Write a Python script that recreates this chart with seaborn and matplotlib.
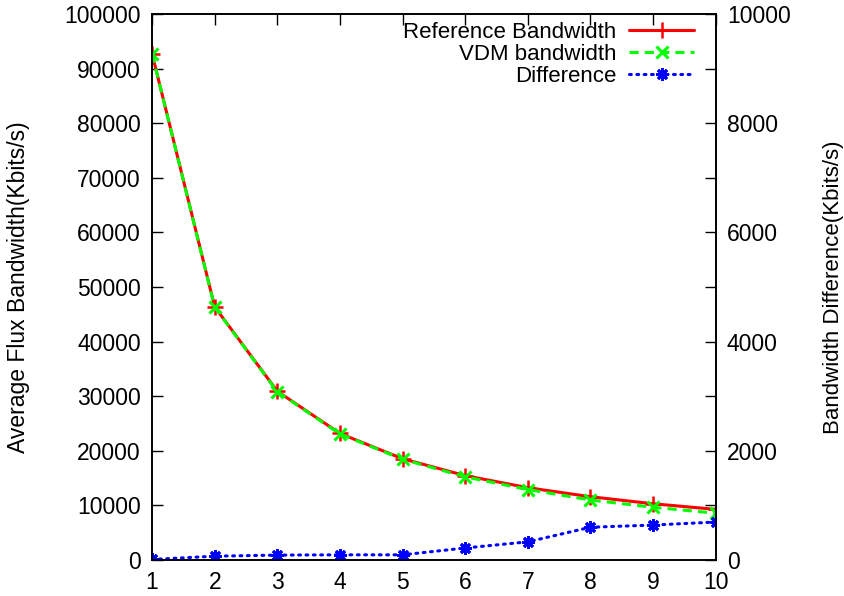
import matplotlib
matplotlib.use("Agg")
import matplotlib.pyplot as plt
import seaborn as sns
import pandas as pd

x_vals = [1, 2, 3, 4, 5, 6, 7, 8, 9, 10]
reference_bw = [92700, 46350, 30900, 23175, 18540, 15450, 13243, 11590, 10300, 9270]
vdm_bw = [92690, 46280, 30810, 23080, 18450, 15230, 12910, 10990, 9660, 8575]
difference = [10, 70, 90, 95, 95, 220, 333, 600, 640, 695]

sns.set_style("white")
plt.rcParams['font.family'] = ['Liberation Sans', 'DejaVu Sans']
plt.rcParams['text.color'] = 'black'
plt.rcParams['axes.labelcolor'] = 'black'
plt.rcParams['xtick.color'] = 'black'
plt.rcParams['ytick.color'] = 'black'
FS = 16.5

df = pd.DataFrame({"x": x_vals, "ref": reference_bw, "vdm": vdm_bw, "diff": difference})

fig = plt.figure(figsize=(8.45, 5.96), dpi=100)
ax = fig.add_axes([0.180, 0.0604, 0.667, 0.9161])
ax2 = ax.twinx()

sns.lineplot(data=df, x="x", y="ref", ax=ax, color="#ff0000", lw=2.2, marker="+",
             markersize=11, markeredgewidth=1.8, markeredgecolor="#ff0000",
             label="Reference Bandwidth", legend=False)
sns.lineplot(data=df, x="x", y="vdm", ax=ax, color="#00ff00", lw=2.2, linestyle=(0, (3, 2)),
             marker="x", markersize=8, markeredgewidth=2.2, markeredgecolor="#00ff00",
             label="VDM bandwidth", legend=False)
sns.lineplot(data=df, x="x", y="diff", ax=ax2, color="#0000ff", lw=2.2, linestyle=(0, (0.6, 1.8)),
             dash_capstyle="round", marker=(8, 2, 0), markersize=9, markeredgewidth=2.0,
             markeredgecolor="#0000ff", label="Difference", legend=False)

ax.set_xlim(1, 10)
ax.set_ylim(0, 100000)
ax2.set_ylim(0, 10000)
ax.set_xticks(x_vals)
ax.set_yticks(range(0, 100001, 10000))
ax2.set_yticks(range(0, 10001, 2000))
ax.set_xlabel("")
ax.set_ylabel("Average Flux Bandwidth(Kbits/s)", fontsize=16.5, labelpad=25)
ax2.set_ylabel("Bandwidth Difference(Kbits/s)", fontsize=16, labelpad=23)

ax.tick_params(axis="both", direction="in", length=8, width=1, top=True, right=True,
               labelright=False, labelsize=FS, pad=8)
ax2.tick_params(axis="y", direction="in", length=0, width=1, labelsize=FS, pad=8)
for a in (ax, ax2):
    for s in a.spines.values():
        s.set_color("black")
        s.set_linewidth(1.2)

h1, l1 = ax.get_legend_handles_labels()
h2, l2 = ax2.get_legend_handles_labels()
leg = ax2.legend(h1 + h2, l1 + l2, loc="upper right", bbox_to_anchor=(0.985, 1.01), frameon=False,
                 markerfirst=False, handlelength=2.9, handletextpad=0.6, fontsize=FS - 0.5,
                 labelspacing=0.05, borderaxespad=0.2)
for t in leg.get_texts():
    t.set_ha("right")

fig.savefig("out.png", dpi=100)
